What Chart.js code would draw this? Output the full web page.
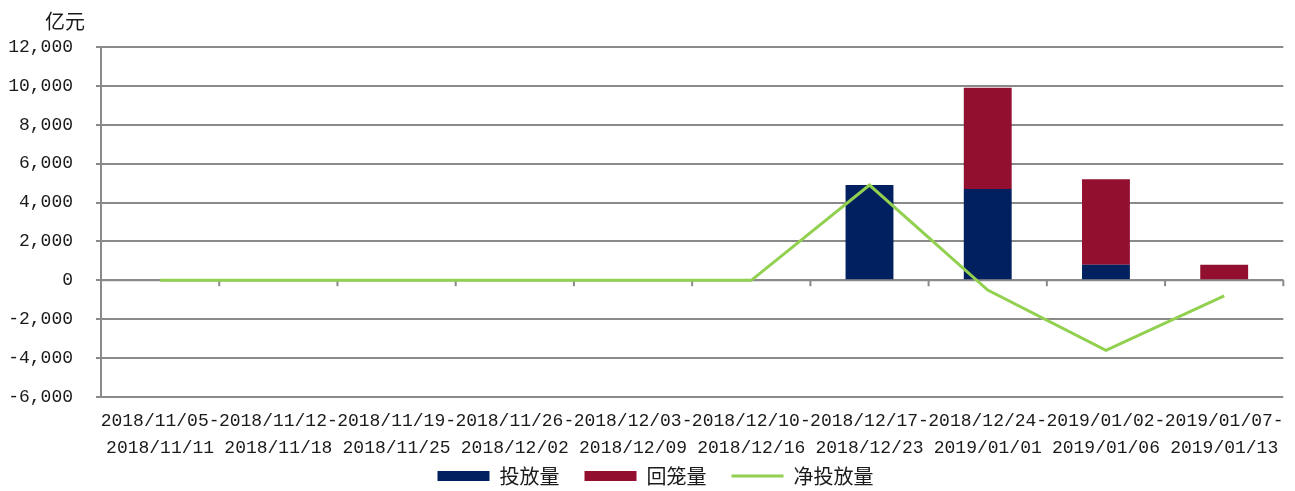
<!DOCTYPE html>
<html>
<head>
<meta charset="utf-8">
<script src="https://cdn.jsdelivr.net/npm/chart.js@4/dist/chart.umd.min.js"></script>
<style>
  html, body { margin: 0; padding: 0; background: #fff; }
  #wrap { width: 1295px; height: 491px; }
</style>
</head>
<body>
<div id="wrap"><canvas id="c" width="1295" height="491"></canvas></div>
<script>
const weeks = [
  ["2018/11/05-", "2018/11/11"],
  ["2018/11/12-", "2018/11/18"],
  ["2018/11/19-", "2018/11/25"],
  ["2018/11/26-", "2018/12/02"],
  ["2018/12/03-", "2018/12/09"],
  ["2018/12/10-", "2018/12/16"],
  ["2018/12/17-", "2018/12/23"],
  ["2018/12/24-", "2019/01/01"],
  ["2019/01/02-", "2019/01/06"],
  ["2019/01/07-", "2019/01/13"],
];
const injection = [0, 0, 0, 0, 0, 0, 4900, 4700, 800, 0];   // 投放量
const withdrawal = [0, 0, 0, 0, 0, 0, 0, 5200, 4400, 800];  // 回笼量
const netInjection = [0, 0, 0, 0, 0, 0, 4900, -500, -3600, -800]; // 净投放量
const yMin = -6000, yMax = 12000, yStep = 2000;

const gridGray = "#8a8a8a";
const latin = "'Liberation Mono', 'Noto Sans CJK SC', monospace";
const cjk = "'Noto Sans CJK SC', sans-serif";

// category axis sits on the zero line, with boundary tick marks
const zeroAxis = {
  id: "zeroAxis",
  beforeUpdate(chart) {
    // legend box height fixed so it sits low like the original
    const lg = chart.legend;
    if (lg && !lg._fixed) {
      const fit = lg.fit;
      lg.fit = function () { fit.call(this); this.height = 35; };
      lg._fixed = true;
    }
  },
  afterLayout(chart) {
    chart.legend.left += 24; // nudge legend centre to the right
  },
  beforeDatasetsDraw(chart) {
    const { ctx, scales: { x, y } } = chart;
    const y0 = y.getPixelForValue(0);
    const half = (x.getPixelForValue(1) - x.getPixelForValue(0)) / 2;
    ctx.save();
    ctx.strokeStyle = gridGray;
    ctx.lineWidth = 2;
    ctx.beginPath();
    ctx.moveTo(x.left, y0);
    ctx.lineTo(x.right, y0);
    for (let i = 0; i < weeks.length; i++) {
      const bx = x.getPixelForValue(i) + half;
      ctx.moveTo(bx, y0);
      ctx.lineTo(bx, y0 + 6);
    }
    ctx.stroke();
    ctx.restore();
  },
  afterDraw(chart) {
    const ctx = chart.ctx;
    ctx.save();
    ctx.fillStyle = "#1a1a1a";
    ctx.font = "20px " + cjk;
    ctx.textAlign = "center";
    ctx.textBaseline = "middle";
    ctx.fillText("亿元", 65, 21);
    ctx.restore();
  },
};

new Chart(document.getElementById("c"), {
  data: {
    labels: weeks,
    datasets: [
      {
        type: "line",
        label: "净投放量",
        data: netInjection,
        borderColor: "#92D050",
        backgroundColor: "#92D050",
        borderWidth: 3,
        pointRadius: 0,
        tension: 0,
        order: 0,
      },
      {
        type: "bar",
        label: "投放量",
        data: injection,
        backgroundColor: "#002060",
        stack: "s",
        barPercentage: 0.405,
        categoryPercentage: 1,
        order: 1,
      },
      {
        type: "bar",
        label: "回笼量",
        data: withdrawal,
        backgroundColor: "#920F2F",
        stack: "s",
        barPercentage: 0.405,
        categoryPercentage: 1,
        order: 1,
      },
    ],
  },
  options: {
    responsive: false,
    animation: false,
    layout: { padding: { top: 47, left: 0, right: 8, bottom: 0 } },
    plugins: {
      tooltip: { enabled: false },
      legend: {
        position: "bottom",
        labels: {
          font: { family: cjk, size: 20 },
          color: "#1a1a1a",
          usePointStyle: true,
          pointStyleWidth: 52,
          boxHeight: 10,
          padding: 10,
          generateLabels(chart) {
            return [1, 2, 0].map((i, k) => {
              const ds = chart.data.datasets[i];
              const isLine = ds.type === "line";
              return {
                text: ds.label + (k < 2 ? "\u2002\u2005" : ""),
                fillStyle: ds.backgroundColor,
                strokeStyle: isLine ? ds.borderColor : ds.backgroundColor,
                lineWidth: isLine ? 3 : 0,
                pointStyle: isLine ? "line" : "rect",
                fontColor: "#1a1a1a",
                datasetIndex: i,
              };
            });
          },
        },
      },
    },
    scales: {
      x: {
        stacked: true,
        offset: true,
        grid: { display: false, drawTicks: false },
        border: { display: false },
        ticks: {
          autoSkip: false,
          maxRotation: 0,
          padding: 11,
          color: "#1a1a1a",
          font: { family: latin, size: 18, lineHeight: 1.5 },
        },
        afterFit(scale) { scale.height = 59; },
      },
      y: {
        stacked: true,
        min: yMin,
        max: yMax,
        ticks: {
          stepSize: yStep,
          padding: 23,
          color: "#1a1a1a",
          font: { family: latin, size: 18 },
        },
        grid: { color: gridGray, lineWidth: 2, drawTicks: true, tickLength: 5 },
        border: { display: true, color: gridGray, width: 2 },
        afterFit(scale) { scale.width = 101; },
      },
    },
  },
  plugins: [zeroAxis],
});
</script>
</body>
</html>
